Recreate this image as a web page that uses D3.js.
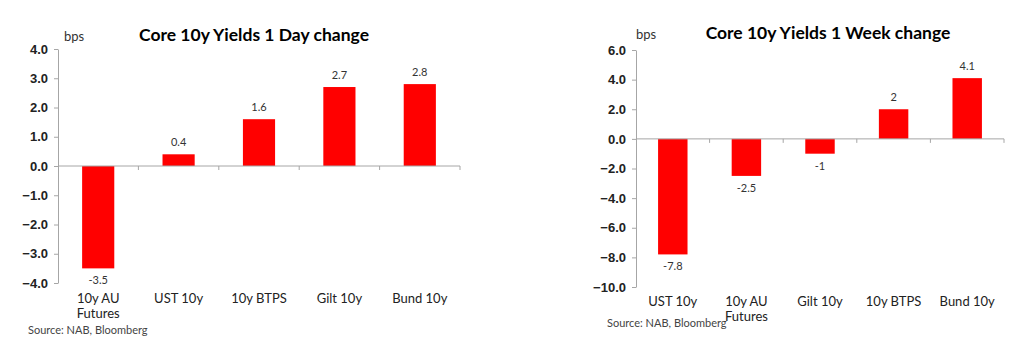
<!DOCTYPE html>
<html>
<head>
<meta charset="utf-8">
<script src="https://cdn.jsdelivr.net/npm/d3@7"></script>
<style>
  body { margin: 0; background: #fff; }
  svg { display: block; font-family: Lato, "Open Sans", sans-serif; }
</style>
</head>
<body>
<script>
var width = 1024;
var height = 353;

// 1 day change
var dayCategories = ["10y AU Futures", "UST 10y", "10y BTPS", "Gilt 10y", "Bund 10y"];
var dayValues = [-3.5, 0.4, 1.6, 2.7, 2.8];
var dayTicks = [4, 3, 2, 1, 0, -1, -2, -3, -4];

// 1 week change
var weekCategories = ["UST 10y", "10y AU Futures", "Gilt 10y", "10y BTPS", "Bund 10y"];
var weekValues = [-7.8, -2.5, -1, 2, 4.1];
var weekTicks = [6, 4, 2, 0, -2, -4, -6, -8, -10];

var svg = d3.select("body").append("svg").attr("width", width).attr("height", height);

drawChart({
    title: "Core 10y Yields 1 Day change",
    categories: dayCategories,
    values: dayValues,
    ticks: dayTicks,
    left: 58, right: 460, top: 49, bottom: 283,
    titleX: 254, titleY: 41, bpsX: 64, bpsY: 41,
    catY: 303, sourceX: 28, sourceY: 334
});

drawChart({
    title: "Core 10y Yields 1 Week change",
    categories: weekCategories,
    values: weekValues,
    ticks: weekTicks,
    left: 636, right: 1004, top: 50, bottom: 287,
    titleX: 828, titleY: 39, bpsX: 636, bpsY: 39,
    catY: 306, sourceX: 607, sourceY: 327
});

function drawChart(o) {
    var g = svg.append("g");

    var x = d3.scaleBand()
        .domain(o.categories)
        .range([o.left, o.right])
        .paddingInner(0.6)
        .paddingOuter(0.3);

    var y = d3.scaleLinear()
        .domain([d3.min(o.ticks), d3.max(o.ticks)])
        .range([o.bottom, o.top]);

    // y axis
    var yAxis = g.append("g")
        .attr("transform", "translate(" + o.left + ",0)")
        .call(d3.axisLeft(y).tickValues(o.ticks).tickFormat(d3.format(".1f")).tickSize(4).tickSizeOuter(0).tickPadding(6));
    yAxis.select(".domain").attr("stroke", "#a6a6a6");
    yAxis.selectAll(".tick line").attr("stroke", "#a6a6a6");
    yAxis.selectAll(".tick text")
        .attr("fill", "#222")
        .style("font-size", "13px")
        .style("font-weight", "600");

    // bars
    g.selectAll("rect.bar")
        .data(o.values)
        .enter()
        .append("rect")
        .attr("class", "bar")
        .attr("x", function (d, i) { return x(o.categories[i]); })
        .attr("width", x.bandwidth())
        .attr("y", function (d) { return y(Math.max(0, d)); })
        .attr("height", function (d) { return Math.abs(y(d) - y(0)); })
        .attr("fill", "#ff0000");

    // zero line with category boundary ticks
    var step = (o.right - o.left) / o.categories.length;
    g.append("line")
        .attr("x1", o.left).attr("x2", o.right)
        .attr("y1", y(0)).attr("y2", y(0))
        .attr("stroke", "#a6a6a6");
    g.selectAll("line.cat")
        .data(o.categories)
        .enter()
        .append("line")
        .attr("class", "cat")
        .attr("x1", function (d, i) { return o.left + step * (i + 1); })
        .attr("x2", function (d, i) { return o.left + step * (i + 1); })
        .attr("y1", y(0)).attr("y2", y(0) + 4)
        .attr("stroke", "#a6a6a6");

    // value labels
    g.selectAll("text.val")
        .data(o.values)
        .enter()
        .append("text")
        .attr("class", "val")
        .attr("x", function (d, i) { return x(o.categories[i]) + x.bandwidth() / 2; })
        .attr("y", function (d) { return d >= 0 ? y(d) - 8 : y(d) + 16; })
        .attr("text-anchor", "middle")
        .attr("fill", "#333")
        .style("font-size", "11px")
        .text(function (d) { return String(d); });

    // category labels, wrapped like Excel
    var cats = g.selectAll("text.cat")
        .data(o.categories)
        .enter()
        .append("text")
        .attr("class", "cat")
        .attr("text-anchor", "middle")
        .attr("fill", "#222")
        .style("font-size", "13px");
    cats.each(function (d) {
        var t = d3.select(this);
        var cx = x(d) + x.bandwidth() / 2;
        var lines = d === "10y AU Futures" ? ["10y AU", "Futures"] : [d];
        lines.forEach(function (l, k) {
            t.append("tspan").attr("x", cx).attr("y", o.catY + k * 15).text(l);
        });
    });

    // titles
    g.append("text")
        .attr("x", o.titleX).attr("y", o.titleY)
        .attr("text-anchor", "middle")
        .attr("fill", "#000")
        .style("font-size", "17.5px")
        .style("font-weight", "bold")
        .text(o.title);
    g.append("text")
        .attr("x", o.bpsX).attr("y", o.bpsY)
        .attr("fill", "#333")
        .style("font-size", "13px")
        .text("bps");
    g.append("text")
        .attr("x", o.sourceX).attr("y", o.sourceY)
        .attr("fill", "#444")
        .style("font-size", "11px")
        .text("Source: NAB, Bloomberg");
}
</script>
</body>
</html>
